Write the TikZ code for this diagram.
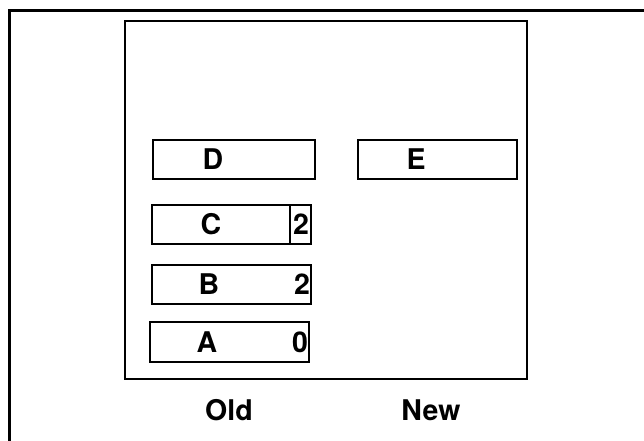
\documentclass[tikz,border=0pt]{standalone}
\usepackage{fontspec}
\setmainfont{TeX Gyre Heros}
\begin{document}
\begin{tikzpicture}[x=1pt,y=-1pt,
  cell/.style={draw,line width=1.1pt,inner sep=0pt,minimum height=39pt},
  lbl/.style={inner sep=0pt,font=\fontsize{28.5}{30}\selectfont\bfseries},
  num/.style={inner sep=0pt,font=\fontsize{28.5}{30}\selectfont\bfseries}]
\useasboundingbox (0,0) rectangle (644,440);
\clip (0,0) rectangle (644,440);
% outer frame (cut off at right and bottom)
\coordinate (fbl) at (9,445);
\coordinate (ftl) at (9,10);
\coordinate (ftr) at (650,10);
\draw[line width=3pt] (fbl) -- (ftl) -- (ftr);
% inner box
\node[draw,line width=1.5pt,inner sep=0pt,minimum width=402pt,minimum height=358pt] (inner) at (326,200) {};
% boxes
\node[cell,minimum width=162pt] (D) at (234,159.5) {};
\node[cell,minimum width=159pt] (E) at (437.5,159.5) {};
\node[cell,minimum width=159pt] (C) at (231.5,224.5) {};
\node[cell,minimum width=159pt] (B) at (231.5,284.5) {};
\node[cell,minimum width=159pt,minimum height=40pt] (A) at (229.5,342) {};
\coordinate (cdt) at (290,205);
\coordinate (cdb) at (290,244);
\draw[line width=1.1pt] (cdt) -- (cdb);
% labels
\node[lbl] (Dl) at (213,159.5) {D};
\node[lbl] (El) at (416,159.5) {E};
\node[lbl] (Cl) at (211,224.5) {C};
\node[lbl] (Bl) at (209,284.5) {B};
\node[lbl] (Al) at (207,342) {A};
\node[num] (Cn) at (301,224.5) {2};
\node[num] (Bn) at (302,284.5) {2};
\node[num] (An) at (300,342) {0};
\node[lbl,anchor=base] (old) at (229,420) {Old};
\node[lbl,anchor=base] (new) at (431,420) {New};
\end{tikzpicture}
\end{document}
